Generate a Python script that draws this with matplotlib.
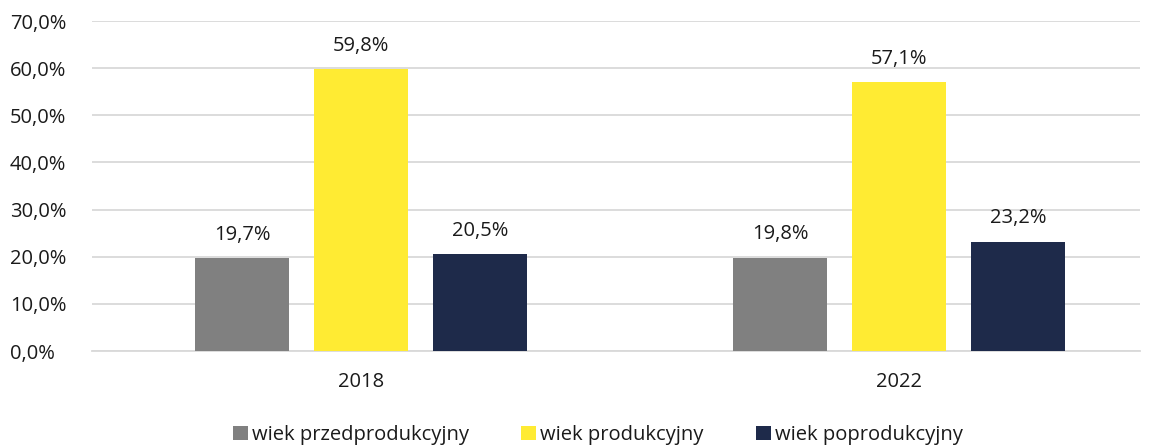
import matplotlib
matplotlib.use("Agg")
import matplotlib.pyplot as plt
import numpy as np

years = ["2018", "2022"]
series_names = ["wiek przedprodukcyjny", "wiek produkcyjny", "wiek poprodukcyjny"]
przed = [19.7, 19.8]
prod = [59.8, 57.1]
poprod = [20.5, 23.2]
colors = ["#808080", "#FFEB33", "#1E2A4A"]
yticks = [0, 10, 20, 30, 40, 50, 60, 70]

plt.rcParams['font.family'] = ['Open Sans', 'DejaVu Sans']
FS = 14.5
TC = '#1a1a1a'

fig = plt.figure(figsize=(11.59, 4.46), dpi=100)
ax = fig.add_axes([92/1159, 1-351/446, (1140-92)/1159, 330/446])

x = np.arange(len(years))
w = 0.175
step = 0.221
for i, (vals, c, name) in enumerate(zip([przed, prod, poprod], colors, series_names)):
    pos = x + (i-1)*step
    ax.bar(pos, vals, width=w, color=c, label=name, zorder=3)
    for p, v in zip(pos, vals):
        ax.text(p, v + 2.8, f"{v:.1f}%".replace('.', ','), ha='center', va='bottom',
                fontsize=FS, color=TC)

ax.set_xlim(-0.5, 1.448)
ax.set_ylim(0, 70)
ax.set_yticks(yticks)
ax.set_yticklabels([f"{t:.1f}%".replace('.', ',') for t in yticks], fontsize=FS, color=TC)
ax.set_xticks(x)
ax.set_xticklabels(years, fontsize=FS, color=TC)
ax.tick_params(axis='both', length=0)
ax.tick_params(axis='y', pad=59)
ax.tick_params(axis='x', pad=15)
for lbl in ax.get_yticklabels():
    lbl.set_horizontalalignment('left')
ax.grid(axis='y', color='#D9D9D9', linewidth=1.3, zorder=0)
for s in ['top', 'right', 'left']:
    ax.spines[s].set_visible(False)
ax.spines['bottom'].set_color('#D9D9D9')
ax.spines['bottom'].set_linewidth(1.3)

leg = fig.legend(loc='center', bbox_to_anchor=(598/1159, 1-435/446), ncol=3, frameon=False,
                 fontsize=FS, handlelength=0.75, handleheight=0.75, handletextpad=0.2,
                 columnspacing=2.6)
for t in leg.get_texts():
    t.set_color(TC)

fig.savefig("out.png", dpi=100)
